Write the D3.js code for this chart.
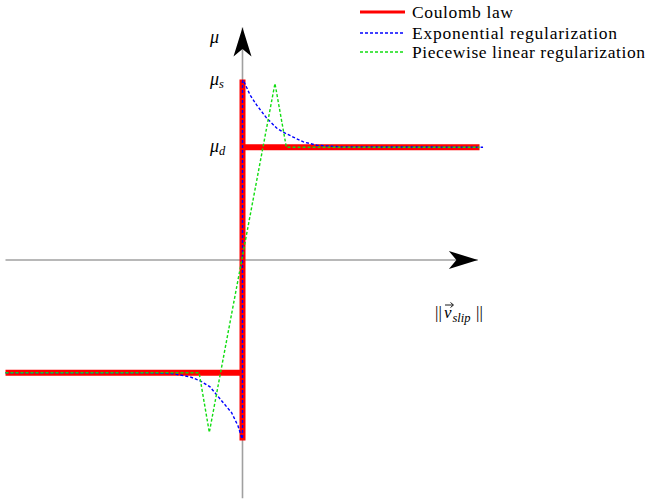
<!DOCTYPE html>
<html>
<head>
<meta charset="utf-8">
<script src="https://cdn.jsdelivr.net/npm/d3@7/dist/d3.min.js"></script>
<style>
  body { margin: 0; background: #fff; }
  svg text { font-family: "Liberation Serif", "DejaVu Serif", serif; fill: #000; }
</style>
</head>
<body>
<div id="chart"></div>
<script>
  // friction values (normalised, mu_s = 1)
  const MU_S = 1;
  const MU_D = 0.625;

  // Coulomb law
  const coulombX = [-1, 0, 0, 0, 0, 1];
  const coulombY = [-MU_D, -MU_D, -MU_S, MU_S, MU_D, MU_D];

  // exponential regularization
  const expX = [-1.0, -0.39, -0.293, -0.222, -0.179, -0.137, -0.095, -0.046, -0.019, -0.003, 0, 0, 0.003, 0.032, 0.060, 0.102, 0.144, 0.172, 0.214, 0.257, 0.313, 0.41, 1.015];
  const expY = [-0.625, -0.625, -0.63, -0.647, -0.669, -0.703, -0.769, -0.846, -0.919, -0.986, -0.99, 0.99, 0.997, 0.914, 0.858, 0.786, 0.731, 0.708, 0.681, 0.654, 0.636, 0.627, 0.625];

  // piecewise linear regularization
  const pwX = [-1, -0.183, -0.14, 0.137, 0.185, 1.0];
  const pwY = [-0.625, -0.625, -0.955, 0.978, 0.625, 0.625];

  // axis extents (data units)
  const xAxisExt = [-1, 1.01];
  const yAxisExt = [-1.32, 1.31];

  const legendLabels = ['Coulomb law', 'Exponential regularization', 'Piecewise linear regularization'];
  const legendWidths = [101, 205, 233];

  const width = 647;
  const height = 499;

  const xScale = d3.scaleLinear().domain([-1, 1]).range([5.5, 479.5]);
  const yScale = d3.scaleLinear().domain([-1, 1]).range([440.5, 79.5]);

  const svg = d3.select('#chart')
                .append('svg')
                .attr('width', width)
                .attr('height', height);

  svg.append('rect').attr('width', width).attr('height', height).attr('fill', '#fff');

  const defs = svg.append('defs');
  // stealth-ish arrow head
  defs.append('marker')
     .attr('id', 'arrow')
     .attr('markerUnits', 'userSpaceOnUse')
     .attr('viewBox', '-30 -10 32 20')
     .attr('markerWidth', 32)
     .attr('markerHeight', 20)
     .attr('refX', 0)
     .attr('refY', 0)
     .attr('orient', 'auto')
     .append('path')
     .attr('d', 'M0,0 L-29,-9 L-21.5,0 L-29,9 Z')
     .attr('fill', '#000');

  //axes
  svg.append('line')
     .attr('x1', xScale(xAxisExt[0])).attr('x2', xScale(xAxisExt[1]) - 4)
     .attr('y1', yScale(0)).attr('y2', yScale(0))
     .attr('stroke', '#a0a0a0').attr('stroke-width', 1.6)
     .attr('marker-end', 'url(#arrow)');

  svg.append('line')
     .attr('x1', xScale(0)).attr('x2', xScale(0))
     .attr('y1', yScale(yAxisExt[0])).attr('y2', yScale(yAxisExt[1]) + 4)
     .attr('stroke', '#a0a0a0').attr('stroke-width', 1.6)
     .attr('marker-end', 'url(#arrow)');

  const line = d3.line().x(d => xScale(d[0])).y(d => yScale(d[1]));

  const series = [
    { x: coulombX, y: coulombY, color: '#ff0000', w: 6, dash: null },
    { x: expX, y: expY, color: '#0000ff', w: 1.4, dash: '3,2' },
    { x: pwX, y: pwY, color: '#11dd11', w: 1.4, dash: '3,2' }
  ];

  series.forEach(s => {
    svg.append('path')
       .datum(s.x.map((v, i) => [v, s.y[i]]))
       .attr('d', line)
       .attr('fill', 'none')
       .attr('stroke', s.color)
       .attr('stroke-width', s.w)
       .attr('stroke-linejoin', 'miter')
       .attr('stroke-dasharray', s.dash);
  });

  //labels on the y axis
  const lab = svg.append('g').attr('font-style', 'italic').attr('font-size', 18);
  lab.append('text').attr('x', 210).attr('y', yScale(yAxisExt[1]) + 19).text('\u03bc');
  let t = lab.append('text').attr('x', 210).attr('y', yScale(MU_S) + 5);
  t.append('tspan').text('\u03bc');
  t.append('tspan').attr('font-size', 12.5).attr('dy', 3).text('s');
  t = lab.append('text').attr('x', 210).attr('y', yScale(MU_D) + 5);
  t.append('tspan').text('\u03bc');
  t.append('tspan').attr('font-size', 12.5).attr('dy', 3).text('d');

  // ||v_slip|| label
  const vl = svg.append('g').attr('transform', 'translate(435,318)').attr('font-size', 17);
  vl.append('text').attr('x', 0).attr('y', 0).text('||');
  vl.append('text').attr('x', 9).attr('y', 0).attr('font-style', 'italic').text('v');
  // little vector arrow over the v
  vl.append('path')
    .attr('d', 'M10,-13 L18,-13 M15.5,-15.5 L18.5,-13 L15.5,-10.5')
    .attr('fill', 'none').attr('stroke', '#000').attr('stroke-width', 0.9);
  vl.append('text').attr('x', 17.5).attr('y', 3.5).attr('font-style', 'italic').attr('font-size', 12.5).text('slip');
  vl.append('text').attr('x', 41).attr('y', 0).text('||');

  //legend
  const legendY = [12, 33, 52];
  const legend = svg.append('g');
  series.forEach((s, i) => {
    legend.append('line')
          .attr('x1', 360).attr('x2', 405)
          .attr('y1', legendY[i]).attr('y2', legendY[i])
          .attr('stroke', s.color)
          .attr('stroke-width', i === 0 ? 3 : 1.4)
          .attr('stroke-dasharray', s.dash);
    legend.append('text')
          .attr('x', 412)
          .attr('y', legendY[i] + 6)
          .attr('font-size', 17.5)
          .attr('textLength', legendWidths[i])
          .attr('lengthAdjust', 'spacing')
          .text(legendLabels[i]);
  });
</script>
</body>
</html>
